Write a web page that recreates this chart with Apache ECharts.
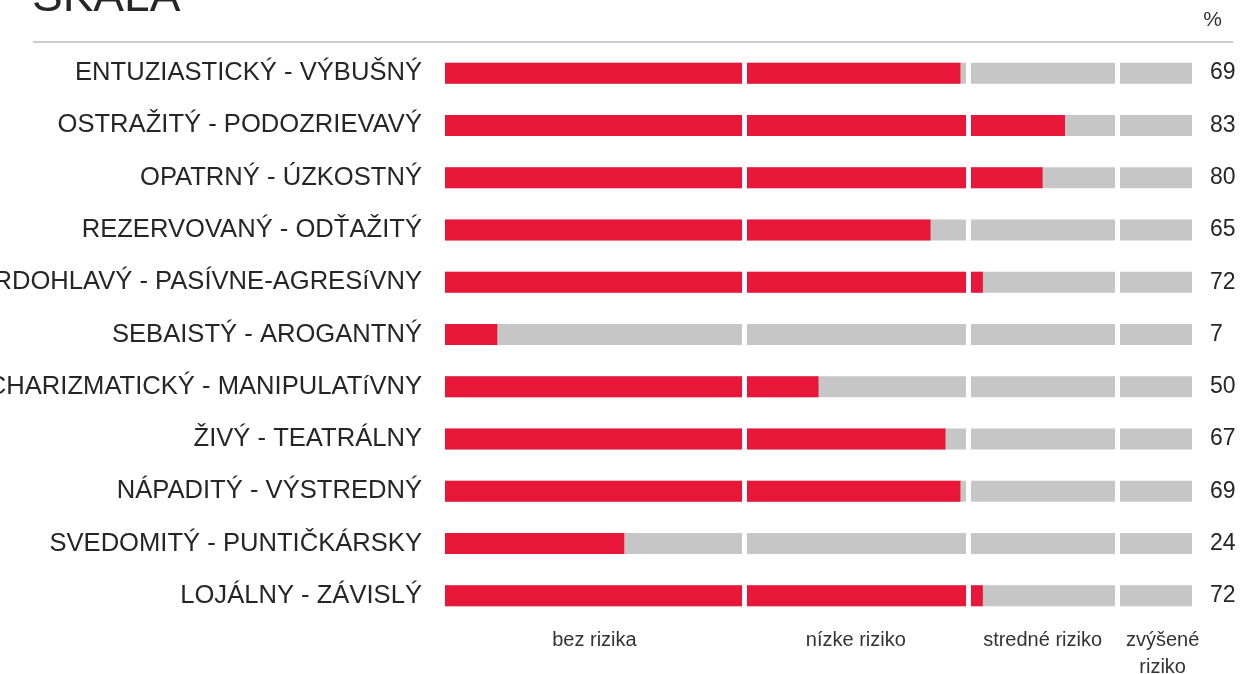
<!DOCTYPE html>
<html lang="sk">
<head>
    <meta charset="UTF-8">
    <title>SKALA</title>
    <script src="https://cdn.jsdelivr.net/npm/echarts@6/dist/echarts.min.js"></script>
    <style>
        html, body { margin: 0; padding: 0; background: #fff; }
    </style>
</head>
<body>
    <div id="main" style="width: 1241px;height:674px;"></div>
    <script type="text/javascript">
        // kategórie (riadky zhora nadol)
        var categories = [
            'ENTUZIASTICKÝ - VÝBUŠNÝ',
            'OSTRAŽITÝ - PODOZRIEVAVÝ',
            'OPATRNÝ - ÚZKOSTNÝ',
            'REZERVOVANÝ - ODŤAŽITÝ',
            'TVRDOHLAVÝ - PASÍVNE-AGRESíVNY',
            'SEBAISTÝ - AROGANTNÝ',
            'CHARIZMATICKÝ - MANIPULATíVNY',
            'ŽIVÝ - TEATRÁLNY',
            'NÁPADITÝ - VÝSTREDNÝ',
            'SVEDOMITÝ - PUNTIČKÁRSKY',
            'LOJÁLNY - ZÁVISLÝ'
        ];
        // hodnoty v %
        var values = [69, 83, 80, 65, 72, 7, 50, 67, 69, 24, 72];
        // hranice pásiem rizika a ich názvy
        var zoneBounds = [0, 40, 70, 90, 100];
        var zoneLabels = ['bez rizika', 'nízke riziko', 'stredné riziko', 'zvýšené\nriziko'];

        var font = "'Liberation Sans', Arial, Helvetica, sans-serif";
        var zoneCenters = [];
        for (var i = 0; i < zoneLabels.length; i++) {
            zoneCenters.push((zoneBounds[i] + zoneBounds[i + 1]) / 2);
        }
        var fullBars = values.map(function () { return zoneBounds[zoneBounds.length - 1]; });

        var myChart = echarts.init(document.getElementById('main'));

        var option = {
            backgroundColor: '#fff',
            animation: false,
            title: [{
                text: 'SKALA',
                left: 27,
                top: -30,
                textStyle: { fontSize: 46, fontWeight: 'normal', color: '#262626', fontFamily: font }
            }, {
                text: '%',
                right: 14,
                top: 5,
                textStyle: { fontSize: 21, fontWeight: 'normal', color: '#333', fontFamily: "'Liberation Sans Narrow', " + font }
            }],
            graphic: [{
                type: 'line',
                shape: { x1: 33, y1: 42, x2: 1233, y2: 42 },
                style: { stroke: '#999', lineWidth: 1 }
            }],
            grid: {
                left: 445,
                right: 49,
                top: 47,
                bottom: 52,
                containLabel: false,
                outerBoundsMode: 'none'
            },
            xAxis: {
                type: 'value',
                min: zoneBounds[0],
                max: zoneBounds[zoneBounds.length - 1],
                splitLine: { show: false },
                axisLine: { show: false },
                axisTick: { show: false },
                axisLabel: {
                    customValues: zoneCenters,
                    margin: 5,
                    fontSize: 20,
                    lineHeight: 27,
                    color: '#333',
                    fontFamily: font,
                    formatter: function (v) {
                        var idx = zoneCenters.indexOf(v);
                        if (idx < 0) return '';
                        // posledný popis je v origináli mierne posunutý doprava
                        if (idx === zoneLabels.length - 1) {
                            return zoneLabels[idx].split('\n').map(function (s) {
                                return '{z|' + s + '}';
                            }).join('\n');
                        }
                        return zoneLabels[idx];
                    },
                    rich: {
                        z: { fontSize: 20, lineHeight: 27, color: '#333', fontFamily: font, padding: [0, 0, 0, 16] }
                    }
                }
            },
            yAxis: [{
                type: 'category',
                inverse: true,
                data: categories,
                axisLine: { show: false },
                axisTick: { show: false },
                axisLabel: {
                    interval: 0,
                    margin: 23,
                    fontSize: 25.6,
                    color: '#262626',
                    fontFamily: font
                }
            }, {
                type: 'category',
                inverse: true,
                position: 'right',
                data: values.map(String),
                axisLine: { show: false },
                axisTick: { show: false },
                axisLabel: {
                    interval: 0,
                    margin: 18,
                    fontSize: 23,
                    color: '#262626',
                    fontFamily: font
                }
            }],
            series: [{
                name: 'pozadie',
                type: 'bar',
                data: fullBars,
                barWidth: 21,
                barGap: '-100%',
                silent: true,
                itemStyle: { color: '#c6c6c6' }
            }, {
                name: 'hodnota',
                type: 'bar',
                data: values,
                barWidth: 21,
                silent: true,
                itemStyle: { color: '#e8173a' },
                // biele medzery medzi pásmami
                markLine: {
                    silent: true,
                    symbol: 'none',
                    label: { show: false },
                    lineStyle: { color: '#fff', width: 5, type: 'solid' },
                    data: zoneBounds.slice(1, -1).map(function (b) { return { xAxis: b }; })
                }
            }]
        };

        myChart.setOption(option);
    </script>
</body>
</html>
